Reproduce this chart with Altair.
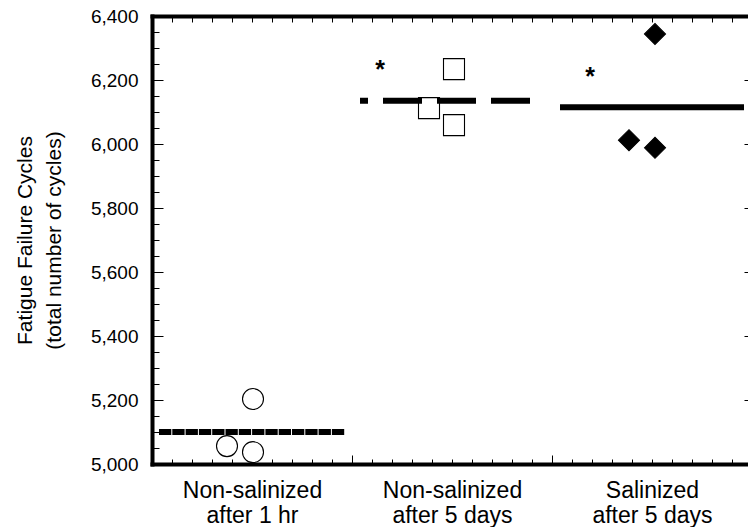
import json
import altair as alt
import pandas as pd

# ---- data ---------------------------------------------------------------
category_lines = [
    ["Non-salinized", "after 1 hr"],
    ["Non-salinized", "after 5 days"],
    ["Salinized", "after 5 days"],
]
group_keys = ["ns_1hr", "ns_5days", "sal_5days"]

# individual specimens: group, position inside its category, failure cycles
point_group = ["ns_1hr"] * 3 + ["ns_5days"] * 3 + ["sal_5days"] * 3
point_pos = [0.505, 0.375, 0.505, 1.51, 1.385, 1.51, 2.515, 2.385, 2.515]
point_cycles = [5203, 5056, 5037, 6234, 6112, 6059, 6344, 6012, 5988]

# group means drawn as horizontal bars across each category
mean_cycles = [5100, 6135, 6115]
mean_start = [0.035, 1.04, 2.04]
mean_end = [0.965, 1.94, 2.96]

# significance markers
star_pos = [1.14, 2.19]
star_cycles = [6250, 6228]

y_major = list(range(5000, 6401, 200))
y_minor = [v for v in range(5050, 6400, 50) if v % 200]
x_major = [1, 2]
x_minor = [round(0.1 * i, 1) for i in range(1, 30) if i % 10]

points = pd.DataFrame({"group": point_group, "pos": point_pos, "cycles": point_cycles})
means = pd.DataFrame({"group": group_keys, "cycles": mean_cycles,
                      "x0": mean_start, "x1": mean_end})
stars = pd.DataFrame({"pos": star_pos, "cycles": star_cycles})

FONT = "Liberation Sans"
W, H = 596, 448

x_scale = alt.Scale(domain=[0, 2.98], nice=False, zero=False)
y_scale = alt.Scale(domain=[5000, 6400], nice=False, zero=False)

label_expr = json.dumps(category_lines) + "[floor(datum.value)]"


def inner_ticks(orient, length, values):
    """Ticks pointing into the plot: the axis sits `length` px inside the
    frame and its ticks reach back out to it."""
    return alt.Axis(
        orient=orient, offset=-length, values=values, labels=False,
        domain=False, ticks=True, tickSize=length, tickColor="black",
        tickWidth=1, grid=False, title=None,
    )


# ---- specimens ----------------------------------------------------------
pts = alt.Chart(points).mark_point(size=441, strokeWidth=1.1, opacity=1).encode(
    x=alt.X("pos:Q", scale=x_scale, axis=alt.Axis(
        orient="bottom", values=[0.5, 1.5, 2.5], labelExpr=label_expr,
        ticks=False, domain=True, domainColor="black", domainWidth=4,
        domainCap="square", labelFontSize=23, labelLineHeight=25,
        labelPadding=15, labelColor="black", labelFont=FONT,
        labelOverlap=False, labelFlush=False, grid=False, title=None)),
    y=alt.Y("cycles:Q", scale=y_scale, axis=alt.Axis(
        orient="left", values=y_major, format=",.0f", ticks=False, domain=True,
        domainColor="black", domainWidth=4, domainCap="square",
        labelPadding=14, labelFontSize=19, labelColor="black", labelFont=FONT,
        grid=False, title=["Fatigue Failure Cycles", "(total number of cycles)"],
        titleFont=FONT, titleFontSize=21, titleFontWeight="normal",
        titleColor="black", titleLineHeight=29, titlePadding=26)),
    shape=alt.Shape("group:N", scale=alt.Scale(
        domain=group_keys, range=["circle", "square", "diamond"]), legend=None),
    fill=alt.Fill("group:N", scale=alt.Scale(
        domain=group_keys, range=["white", "white", "black"]), legend=None),
    stroke=alt.value("black"),
)

# ---- mean bars ----------------------------------------------------------
def mean_bar(key, **style):
    return alt.Chart(means).transform_filter(
        alt.datum.group == key
    ).mark_rule(color="black", strokeWidth=6, strokeCap="butt", **style)


mean1 = mean_bar("ns_1hr", strokeDash=[12.3, 1]).encode(
    x=alt.X("x0:Q", scale=x_scale, axis=inner_ticks("bottom", 5, x_minor)),
    x2="x1:Q",
    y=alt.Y("cycles:Q", scale=y_scale, axis=inner_ticks("left", 7, y_minor)),
)

mean2 = mean_bar("ns_5days", strokeDash=[39, 15], strokeDashOffset=31).encode(
    x=alt.X("x0:Q", scale=x_scale, axis=alt.Axis(
        orient="top", domain=True, domainColor="black", domainWidth=4,
        domainCap="square", ticks=False, labels=False, grid=False, title=None)),
    x2="x1:Q",
    y=alt.Y("cycles:Q", scale=y_scale, axis=alt.Axis(
        orient="right", offset=-4, values=y_major[1:-1], labels=False,
        domain=False, ticks=True, tickSize=4, tickColor="black", tickWidth=1,
        grid=False, title=None)),
)

mean3 = mean_bar("sal_5days").encode(
    x=alt.X("x0:Q", scale=x_scale, axis=alt.Axis(
        orient="top", offset=-6, values=x_minor + x_major, labels=False,
        domain=False, ticks=True, tickSize=6, tickColor="black", tickWidth=1,
        grid=False, title=None)),
    x2="x1:Q",
    y=alt.Y("cycles:Q", scale=y_scale, axis=None),
)

# ---- significance markers ------------------------------------------------
star = alt.Chart(stars).mark_text(
    text="*", font=FONT, fontSize=25, fontWeight="bold", color="black",
    baseline="alphabetic", dy=14
).encode(
    x=alt.X("pos:Q", scale=x_scale, axis=inner_ticks("bottom", 9, x_major)),
    y=alt.Y("cycles:Q", scale=y_scale,
            axis=inner_ticks("left", 11, y_major[1:-1])),
)

chart = alt.layer(pts, mean1, mean2, mean3, star).resolve_axis(
    x="independent", y="independent"
).properties(
    width=W, height=H, autosize="none",
    padding={"left": 152, "top": 16, "right": 0, "bottom": 63},
).configure(font=FONT, background="white").configure_view(stroke=None)

chart.save("out.html", embed_options={"renderer": "svg", "actions": False})
